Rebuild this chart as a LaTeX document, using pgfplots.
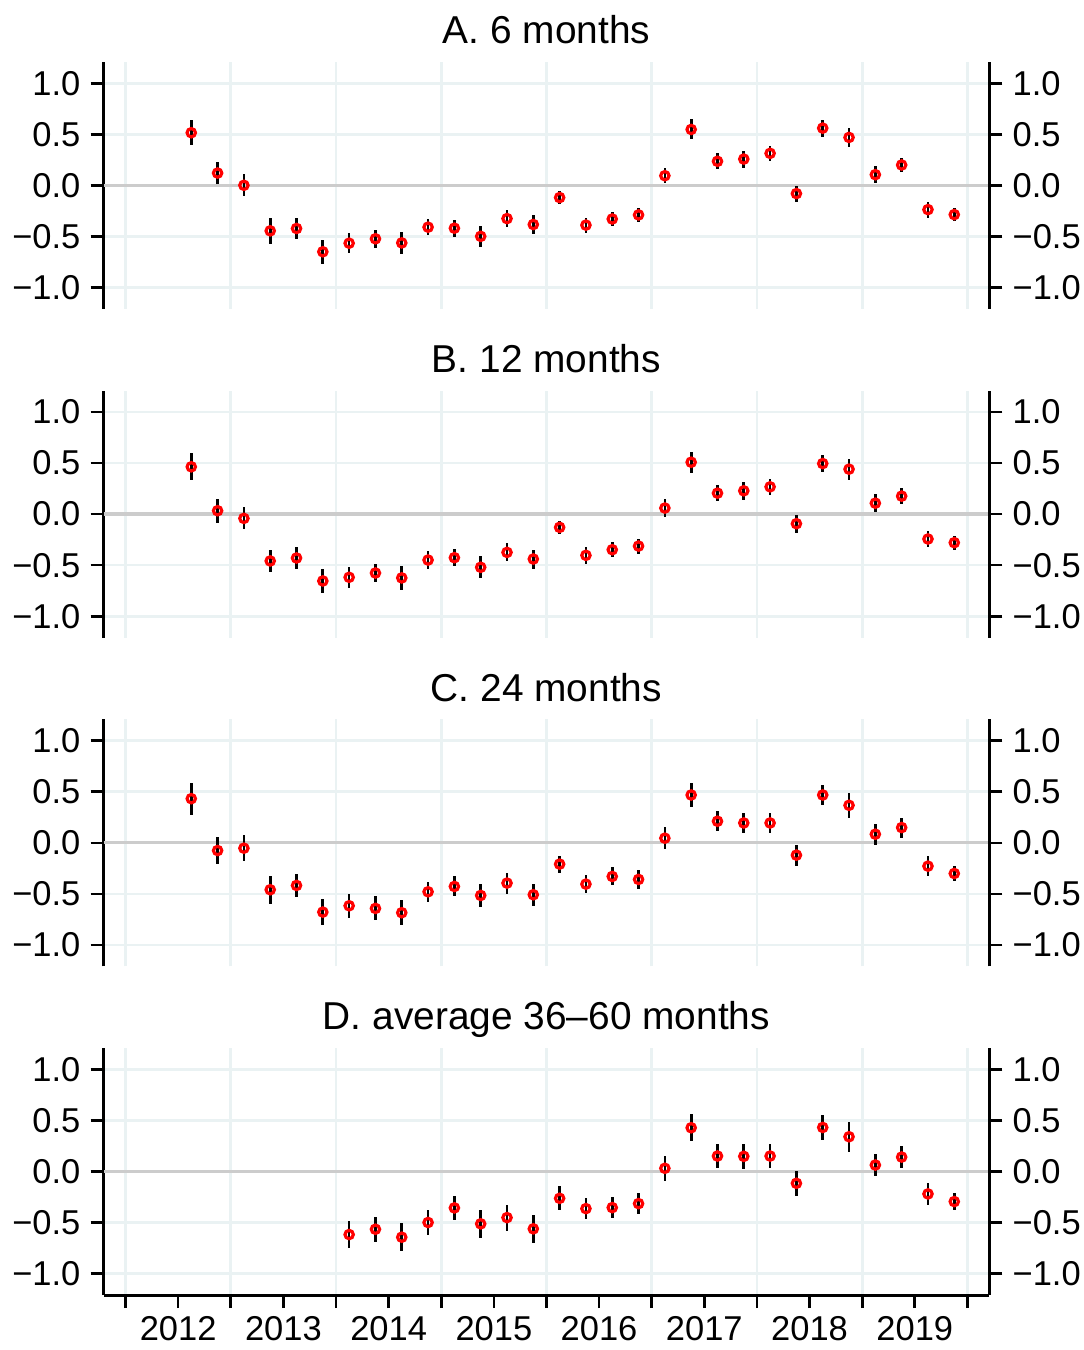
\documentclass[border=0pt]{standalone}
\usepackage{fontspec}
\setmainfont{Liberation Sans}
\usepackage{pgfplots}
\pgfplotsset{compat=1.18}
\usepackage{pgfplotstable}
\definecolor{gridc}{RGB}{234,242,243}
\definecolor{zeroc}{RGB}{204,204,204}

\pgfplotstableread{
x y e
2012.125 0.515 0.125
2012.375 0.12 0.112
2012.625 0.00 0.107
2012.875 -0.446 0.127
2013.125 -0.423 0.10
2013.375 -0.651 0.12
2013.625 -0.567 0.10
2013.875 -0.524 0.088
2014.125 -0.564 0.109
2014.375 -0.41 0.08
2014.625 -0.42 0.083
2014.875 -0.50 0.10
2015.125 -0.326 0.081
2015.375 -0.384 0.091
2015.625 -0.12 0.067
2015.875 -0.39 0.073
2016.125 -0.33 0.068
2016.375 -0.29 0.067
2016.625 0.094 0.072
2016.875 0.547 0.098
2017.125 0.235 0.078
2017.375 0.257 0.083
2017.625 0.313 0.075
2017.875 -0.081 0.078
2018.125 0.56 0.083
2018.375 0.469 0.093
2018.625 0.104 0.086
2018.875 0.199 0.072
2019.125 -0.238 0.078
2019.375 -0.287 0.067
}\dataA

\pgfplotstableread{
x y e
2012.125 0.463 0.133
2012.375 0.033 0.117
2012.625 -0.042 0.107
2012.875 -0.459 0.11
2013.125 -0.43 0.106
2013.375 -0.655 0.117
2013.625 -0.619 0.103
2013.875 -0.577 0.093
2014.125 -0.625 0.114
2014.375 -0.45 0.085
2014.625 -0.427 0.085
2014.875 -0.521 0.109
2015.125 -0.375 0.088
2015.375 -0.44 0.093
2015.625 -0.13 0.067
2015.875 -0.404 0.08
2016.125 -0.349 0.073
2016.375 -0.313 0.073
2016.625 0.059 0.085
2016.875 0.508 0.103
2017.125 0.205 0.081
2017.375 0.228 0.088
2017.625 0.267 0.078
2017.875 -0.094 0.088
2018.125 0.495 0.086
2018.375 0.44 0.103
2018.625 0.107 0.088
2018.875 0.176 0.081
2019.125 -0.244 0.083
2019.375 -0.28 0.068
}\dataB

\pgfplotstableread{
x y e
2012.125 0.433 0.156
2012.375 -0.075 0.135
2012.625 -0.052 0.125
2012.875 -0.459 0.138
2013.125 -0.417 0.111
2013.375 -0.678 0.125
2013.625 -0.616 0.117
2013.875 -0.642 0.117
2014.125 -0.684 0.125
2014.375 -0.479 0.10
2014.625 -0.427 0.098
2014.875 -0.515 0.117
2015.125 -0.394 0.103
2015.375 -0.508 0.106
2015.625 -0.208 0.083
2015.875 -0.404 0.086
2016.125 -0.329 0.088
2016.375 -0.358 0.09
2016.625 0.046 0.107
2016.875 0.469 0.116
2017.125 0.212 0.096
2017.375 0.195 0.10
2017.625 0.195 0.098
2017.875 -0.12 0.104
2018.125 0.469 0.098
2018.375 0.368 0.122
2018.625 0.085 0.103
2018.875 0.15 0.098
2019.125 -0.228 0.096
2019.375 -0.30 0.078
}\dataC

\pgfplotstableread{
x y e
2013.625 -0.616 0.135
2013.875 -0.564 0.124
2014.125 -0.642 0.135
2014.375 -0.498 0.125
2014.625 -0.355 0.117
2014.875 -0.511 0.134
2015.125 -0.45 0.127
2015.375 -0.56 0.134
2015.625 -0.261 0.117
2015.875 -0.362 0.106
2016.125 -0.352 0.103
2016.375 -0.313 0.10
2016.625 0.033 0.12
2016.875 0.43 0.13
2017.125 0.153 0.117
2017.375 0.15 0.122
2017.625 0.153 0.116
2017.875 -0.114 0.12
2018.125 0.433 0.12
2018.375 0.342 0.145
2018.625 0.065 0.112
2018.875 0.143 0.107
2019.125 -0.218 0.108
2019.375 -0.293 0.085
}\dataD

\pgfplotsset{
  every non boxed x axis/.style={},
  every non boxed y axis/.style={},
  base/.style={
    scale only axis, width=444.5pt, height=124pt,
    xmin=2011.292, xmax=2019.708, ymin=-1.21, ymax=1.21,
    anchor=south west,
    tick align=outside,
    major tick length=6.5pt,
    tick style={line width=1.35pt, black},
    axis line style={-, line width=1.35pt, black},
    tick label style={font=\fontsize{17.3}{20}\selectfont},
  },
  panel/.style={
    base,
    axis y line*=left, axis x line*=bottom,
    ytick={-1,-0.5,0.5,1}, yticklabels={−1.0,−0.5,0.5,1.0},
    ymajorgrids, xmajorgrids,
    grid style={line width=1.35pt, gridc},
    extra y ticks={0}, extra y tick labels={0.0},
    extra y tick style={major grid style={line width=1.6pt, draw=zeroc, solid}},
    xtick={2011.5,2012.5,...,2019.5},
    xticklabels={},
    yticklabel style={anchor=east, inner sep=0pt, xshift=-5pt},
    title style={at={(0.5,1)}, anchor=base, yshift=3.2pt, font=\fontsize{19.5}{23}\selectfont},
  },
  nox/.style={x axis line style={draw=none}, xtick style={draw=none}},
  rightax/.style={
    base,
    axis y line*=right, axis x line=none,
    ytick={-1,-0.5,0,0.5,1}, yticklabels={−1.0,−0.5,0.0,0.5,1.0},
    yticklabel style={anchor=west, inner sep=0pt, xshift=5pt},
  },
  pts/.style={only marks, mark=o, mark size=2.1pt,
    mark options={draw=red, line width=1.6pt},
    error bars/.cd, y dir=both, y explicit, error mark=none,
    error bar style={line width=1.35pt, black}},
}

\begin{document}
\begin{tikzpicture}
\useasboundingbox (0,-2.5pt) rectangle (544pt,675pt);

% Panel A
\begin{axis}[panel, nox, at={(52pt,520pt)}, title={A. 6 months}]
\addplot+[pts] table[x=x, y=y, y error=e] {\dataA};
\end{axis}
\begin{axis}[rightax, at={(52pt,520pt)}]
\end{axis}

% Panel B
\begin{axis}[panel, nox, at={(52pt,355pt)}, title={B. 12 months}]
\addplot+[pts] table[x=x, y=y, y error=e] {\dataB};
\end{axis}
\begin{axis}[rightax, at={(52pt,355pt)}]
\end{axis}

% Panel C
\begin{axis}[panel, nox, at={(52pt,190pt)}, title={C. 24 months}]
\addplot+[pts] table[x=x, y=y, y error=e] {\dataC};
\end{axis}
\begin{axis}[rightax, at={(52pt,190pt)}]
\end{axis}

% Panel D
\begin{axis}[panel, at={(52pt,25pt)}, title={D. average 36–60 months},
  extra x ticks={2012,2013,2014,2015,2016,2017,2018,2019},
  extra x tick labels={2012,2013,2014,2015,2016,2017,2018,2019},
  extra x tick style={grid=none, xticklabel style={anchor=north, inner sep=0pt, text depth=0pt, yshift=-3.8pt}}]
\addplot+[pts] table[x=x, y=y, y error=e] {\dataD};
\end{axis}
\begin{axis}[rightax, at={(52pt,25pt)}]
\end{axis}
\end{tikzpicture}
\end{document}
